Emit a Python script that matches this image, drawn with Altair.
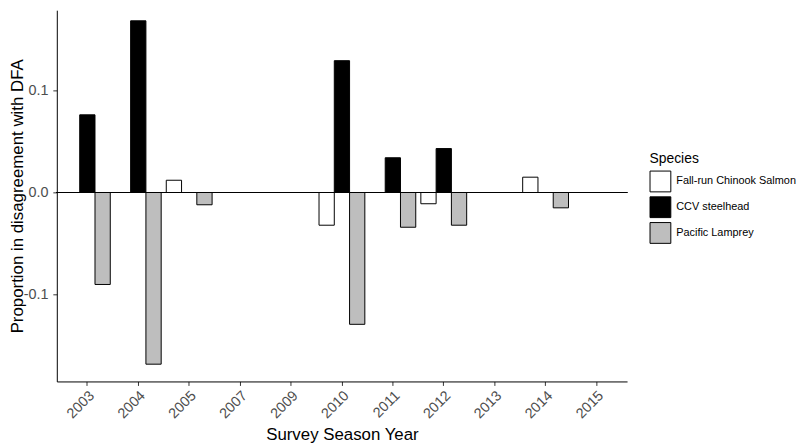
import altair as alt
import pandas as pd

years = ["2003", "2004", "2005", "2007", "2009", "2010", "2011", "2012", "2013", "2014", "2015"]
species = ["Fall-run Chinook Salmon", "CCV steelhead", "Pacific Lamprey"]
fall_run = [0.0, 0.0, 0.012, 0.0, 0.0, -0.032, 0.0, -0.011, 0.0, 0.015, 0.0]
ccv_steelhead = [0.076, 0.168, 0.0, 0.0, 0.0, 0.129, 0.034, 0.043, 0.0, 0.0, 0.0]
pacific_lamprey = [-0.09, -0.168, -0.012, 0.0, 0.0, -0.129, -0.034, -0.032, 0.0, -0.015, 0.0]
fills = ["#FFFFFF", "#000000", "#BEBEBE"]

rows = []
for i, yr in enumerate(years):
    for sp, vals in zip(species, [fall_run, ccv_steelhead, pacific_lamprey]):
        rows.append({"year": yr, "species": sp, "value": vals[i]})
df = pd.DataFrame(rows)

FONT = "Liberation Sans"

bars = alt.Chart(df).transform_filter("datum.value != 0").mark_bar(
    stroke="black", strokeWidth=1
).encode(
    x=alt.X(
        "year:N",
        sort=years,
        scale=alt.Scale(domain=years, paddingInner=0.1, paddingOuter=0.15),
        axis=alt.Axis(
            title="Survey Season Year",
            labelAngle=-45,
            labelAlign="right",
            labelBaseline="top",
            labelPadding=3,
            tickSize=4,
            labelFontSize=14.5,
            labelColor="#4D4D4D",
            labelFont=FONT,
            titleFont=FONT,
            titleFontSize=17,
            titleFontWeight="normal",
            titleColor="black",
            titleY=59,
            titleBaseline="alphabetic",
            domainColor="black",
            tickColor="#333333",
            grid=False,
        ),
    ),
    xOffset=alt.XOffset(
        "species:N", scale=alt.Scale(domain=species, paddingInner=0, paddingOuter=0)
    ),
    y=alt.Y(
        "value:Q",
        scale=alt.Scale(domain=[-0.1849, 0.1784], nice=False, zero=False),
        axis=alt.Axis(
            title="Proportion in disagreement with DFA",
            values=[-0.1, 0.0, 0.1],
            format=".1f",
            labelExpr="replace(datum.label, '\u2212', '-')",
            tickSize=4,
            labelPadding=5,
            labelFontSize=14.5,
            labelColor="#4D4D4D",
            labelFont=FONT,
            titleFont=FONT,
            titleFontSize=17,
            titleFontWeight="normal",
            titleColor="black",
            titleX=-35,
            titleBaseline="alphabetic",
            domainColor="black",
            tickColor="#333333",
            grid=False,
        ),
    ),
    fill=alt.Fill(
        "species:N",
        scale=alt.Scale(domain=species, range=fills),
        legend=alt.Legend(
            title="Species",
            orient="none",
            legendX=598.7,
            legendY=143,
            symbolType="square",
            symbolSize=441,
            symbolStrokeColor="black",
            symbolStrokeWidth=1,
            rowPadding=0,
            titlePadding=5,
            labelOffset=5,
            labelFontSize=11,
            titleFontSize=14,
            labelFont=FONT,
            titleFont=FONT,
            labelColor="black",
            titleColor="black",
            titleFontWeight="normal",
            labelLimit=200,
            padding=0,
        ),
    ),
)

zero_line = alt.Chart(df).mark_rule(color="black", strokeWidth=1).encode(
    y=alt.datum(0)
)

chart = alt.layer(bars, zero_line).properties(
    width=576,
    height=375,
    autosize=alt.AutoSizeParams(type="none"),
    padding={"left": 49.3, "top": 0, "right": 175.7, "bottom": 65},
).configure_view(stroke=None).configure_axis(domainWidth=1, tickWidth=1)

chart.save("out.html", embed_options={"renderer": "svg", "actions": False})
